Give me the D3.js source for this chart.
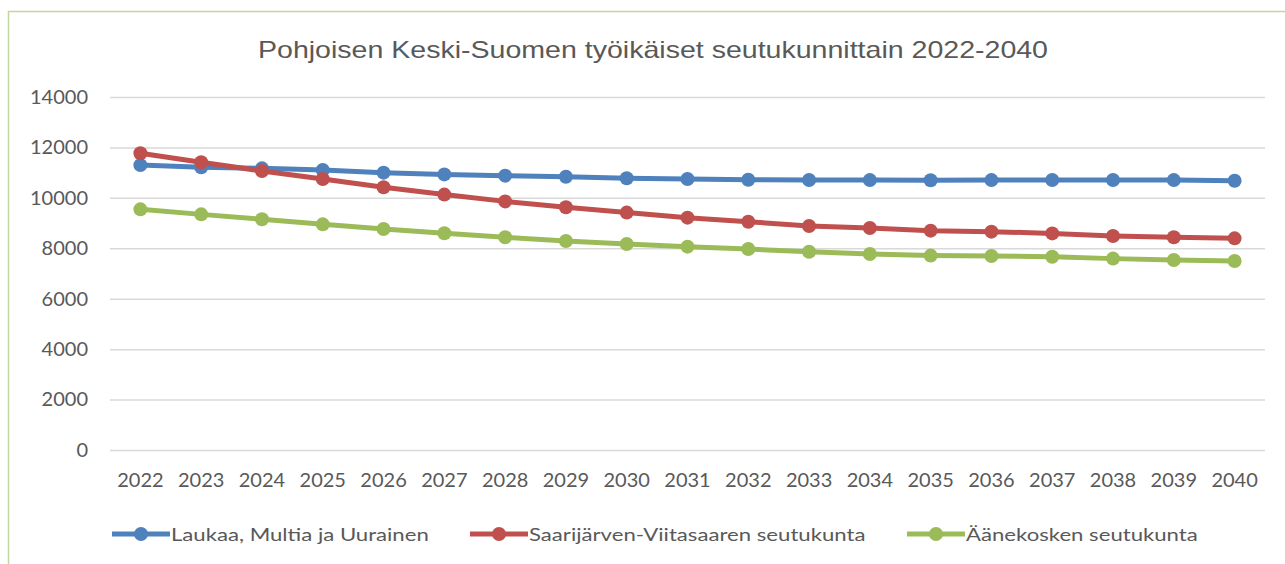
<!DOCTYPE html>
<html><head><meta charset="utf-8">
<script src="https://cdn.jsdelivr.net/npm/d3@7"></script>
<style>body{margin:0;background:#fff}svg{display:block}</style>
</head><body>
<svg id="c" width="1285" height="564"></svg>
<script>
const years = ["2022","2023","2024","2025","2026","2027","2028","2029","2030","2031","2032","2033","2034","2035","2036","2037","2038","2039","2040"];
const laukaa = [11300,11210,11170,11105,11000,10930,10880,10840,10780,10750,10720,10710,10705,10700,10705,10710,10710,10705,10680];
const saarijarvi = [11770,11410,11065,10750,10420,10130,9860,9625,9415,9215,9055,8885,8805,8700,8660,8590,8490,8435,8395];
const aanekoski = [9545,9345,9150,8950,8765,8595,8435,8290,8170,8065,7970,7865,7775,7710,7695,7665,7590,7535,7495];
const seriesNames = ["Laukaa, Multia ja Uurainen","Saarijärven-Viitasaaren seutukunta","Äänekosken seutukunta"];
const colors = ["#4f81bd","#c0504d","#9bbb59"];
const yTicks = [0,2000,4000,6000,8000,10000,12000,14000];
const title = "Pohjoisen Keski-Suomen työikäiset seutukunnittain 2022-2040";

const svg = d3.select("#c");
const font = "Lato, 'Open Sans', sans-serif";
const textColor = "#595959";

function stretch(sel, f){
  sel.each(function(){
    const L = this.getComputedTextLength();
    d3.select(this).attr("textLength", L*f).attr("lengthAdjust","spacingAndGlyphs");
  });
}

svg.append("rect").attr("x",8.5).attr("y",11.5).attr("width",1300).attr("height",600)
  .attr("fill","none").attr("stroke","#c3d69b").attr("stroke-width",1.5);

const x = d3.scaleBand().domain(years).range([110,1265]);
const y = d3.scaleLinear().domain([0,14000]).range([450,97]);

const t = svg.append("text").attr("x",653).attr("y",58).attr("text-anchor","middle")
  .attr("font-family","'Liberation Sans', Arial, sans-serif").attr("font-size",24).attr("fill",textColor).text(title);
const tl = t.node().getComputedTextLength();
t.attr("textLength",790).attr("lengthAdjust","spacingAndGlyphs");

const gy = svg.append("g").attr("transform","translate(110,0)")
  .call(d3.axisLeft(y).tickValues(yTicks).tickSize(-1155).tickPadding(22).tickFormat(d3.format("d")));
gy.select(".domain").remove();
gy.selectAll("line").attr("stroke","#d9d9d9").attr("stroke-width",1.5);
gy.selectAll("text").attr("font-family",font).attr("font-size",20).attr("fill",textColor);

const gx = svg.append("g").attr("transform","translate(0,450)")
  .call(d3.axisBottom(x).tickSize(0).tickPadding(23));
gx.select(".domain").remove();
gx.selectAll("text").attr("font-family",font).attr("font-size",20).attr("fill",textColor);

const data = [laukaa, saarijarvi, aanekoski];
const line = d3.line().x((d,i)=>x(years[i])+x.bandwidth()/2).y(d=>y(d));
data.forEach((s,k)=>{
  svg.append("path").datum(s).attr("d",line).attr("fill","none")
    .attr("stroke",colors[k]).attr("stroke-width",5).attr("stroke-linejoin","round");
  svg.append("g").selectAll("circle").data(s).join("circle")
    .attr("cx",(d,i)=>x(years[i])+x.bandwidth()/2).attr("cy",d=>y(d)).attr("r",7)
    .attr("fill",colors[k]);
});

const legendX = [112,470,907];
seriesNames.forEach((n,k)=>{
  const g = svg.append("g").attr("transform",`translate(${legendX[k]},534)`);
  g.append("line").attr("x1",0).attr("x2",58).attr("stroke",colors[k]).attr("stroke-width",5);
  g.append("circle").attr("cx",29).attr("r",7).attr("fill",colors[k]);
  const tx = g.append("text").attr("x",59).attr("y",7).attr("font-family",font).attr("font-size",18)
    .attr("fill",textColor).text(n);
  stretch(tx, 1.23);
});
</script>
</body></html>
